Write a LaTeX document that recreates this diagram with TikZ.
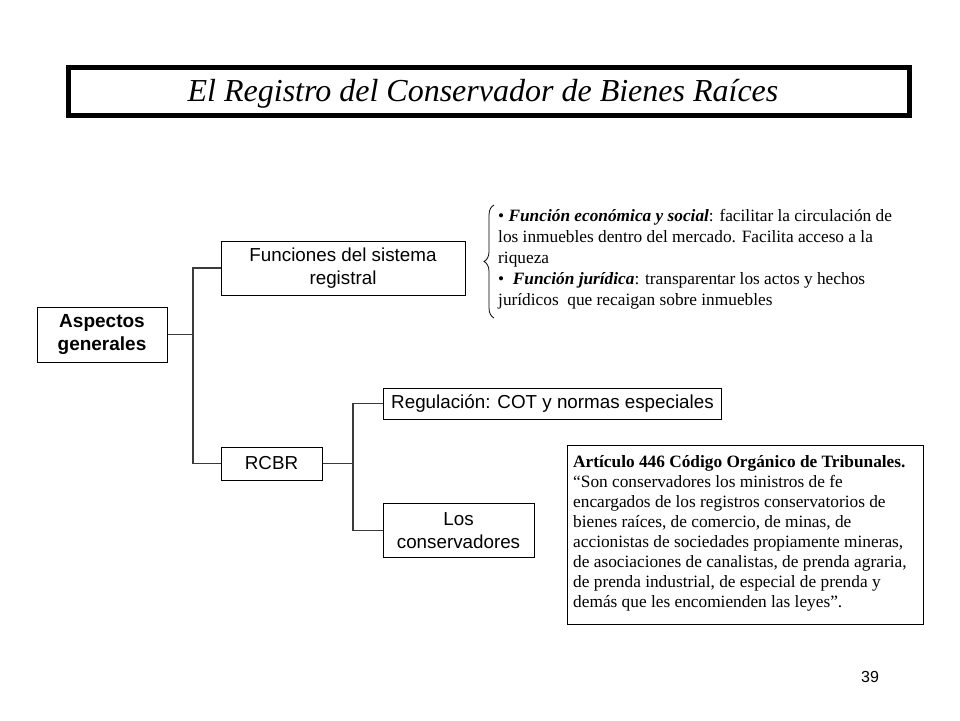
\documentclass[tikz,border=0pt]{standalone}
\usepackage{fontspec}
\setmainfont{Liberation Serif}
\setsansfont{Liberation Sans}
\usetikzlibrary{decorations.pathreplacing}
\definecolor{conn}{HTML}{3A3A3A}
\tikzset{
  x=1pt, y=-1pt,
  sbox/.style={draw=black, line width=1pt, fill=white, align=center, inner sep=1pt,
    font=\sffamily\fontsize{18.8}{22.5}\selectfont},
  conline/.style={draw=conn, line width=1.4pt},
  serifnote/.style={align=left, inner sep=0pt, font=\rmfamily\fontsize{17.3}{20}\selectfont}
}
\begin{document}
\begin{tikzpicture}
\useasboundingbox (0,0) rectangle (960,720);
\fill[white] (0,0) rectangle (960,720);
% title
\draw[line width=5pt] (68.5,67.5) rectangle (909.5,115.5);
\node (title) at (483,93.5) {\fontsize{32}{36}\selectfont\itshape El Registro del Conservador de Bienes Raíces};
% boxes
\node[sbox, minimum width=130, minimum height=55, font=\sffamily\bfseries\fontsize{19}{23}\selectfont] (asp) at (102,334.5) {Aspectos\\generales};
\node[sbox, minimum width=244, minimum height=54] (fun) at (343,268) {Funciones del sistema\\registral};
\node[sbox, minimum width=101, minimum height=33] (rcbr) at (271.5,463.5) {RCBR};
\node[sbox, minimum width=338, minimum height=31] (reg) at (552.5,403.5) {Regulación: COT y normas especiales};
\node[sbox, minimum width=151, minimum height=54] (los) at (458.5,530.5) {Los\\conservadores};
% connectors
\coordinate (j1) at (193,334.5);
\coordinate (j2) at (353,463.5);
\draw[conline] (asp.east) -- (j1);
\draw[conline] (fun.west) -| (j1) |- (rcbr.west);
\draw[conline] (rcbr.east) -- (j2);
\draw[conline] (reg.west) -| (j2) |- (los.west);
% brace and text
\coordinate (bb) at (494,318);
\coordinate (bt) at (494,205);
\draw[black, line width=0.8pt, decorate, decoration={brace, amplitude=10pt}] (bb) -- (bt);
\node[serifnote, anchor=west, font=\rmfamily\fontsize{17.3}{21}\selectfont] (ftext) at (498,259) {%
• \textbf{\textit{Función económica y social}}: facilitar la circulación de\\
los inmuebles dentro del mercado. Facilita acceso a la\\
riqueza\\
•\ \ \textbf{\textit{Función jurídica}}: transparentar los actos y hechos\\
jurídicos\ \ que recaigan sobre inmuebles};
% article box
\node[draw=black, line width=1pt, minimum width=356, minimum height=179, inner sep=0pt] (art) at (745,534.5) {};
\node[serifnote, anchor=north west] (arttext) at (573,455) {%
\textbf{Artículo 446 Código Orgánico de Tribunales.}\\
“Son conservadores los ministros de fe\\
encargados de los registros conservatorios de\\
bienes raíces, de comercio, de minas, de\\
accionistas de sociedades propiamente mineras,\\
de asociaciones de canalistas, de prenda agraria,\\
de prenda industrial, de especial de prenda y\\
demás que les encomienden las leyes”.};
% page number
\node[font=\sffamily\fontsize{16}{18}\selectfont] (page) at (870,677) {39};
\end{tikzpicture}
\end{document}
